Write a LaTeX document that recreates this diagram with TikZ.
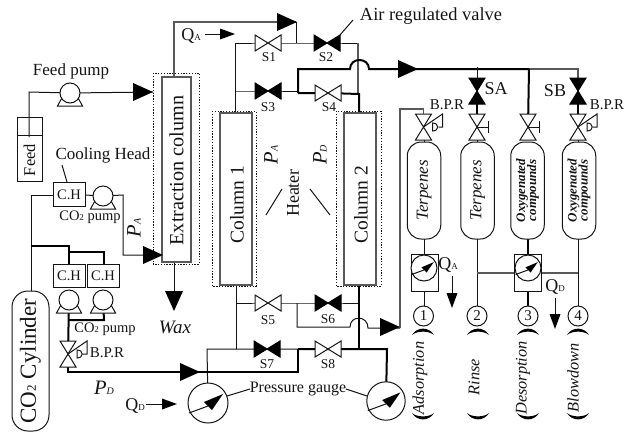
\documentclass[tikz,border=0pt]{standalone}
\usepackage{fontspec}
\setmainfont{Liberation Serif}
\newcommand{\fsz}[1]{\fontsize{#1}{#1}\selectfont}
\newcommand{\sm}[1]{{\fsz{9}#1}}
\newcommand{\smi}[1]{{\fsz{10}#1}}
\definecolor{ink}{gray}{0.08}
\definecolor{pipegray}{gray}{0.35}
\tikzset{
  x=1pt,y=-1pt,
  every node/.style={inner sep=0pt,outer sep=0pt,text=ink},
  thin pipe/.style={draw=ink,line width=1pt},
  gray pipe/.style={draw=pipegray,line width=1.1pt},
  heavy pipe/.style={draw=black,line width=2pt},
  label13/.style={font=\fsz{13.5}},
  colbox/.style={draw=pipegray,line width=1.3pt,fill=white,rotate=90,minimum height=32pt},
  coltext/.style={font=\fsz{19.5},rotate=90},
  dotbox/.style={draw=ink,line width=1pt,dash pattern=on 1.3pt off 1.5pt},
  chbox/.style={draw=ink,line width=1pt,fill=white,minimum width=32pt,minimum height=23.5pt,font=\fsz{14.5}},
  tank/.style={draw=ink,line width=1pt,fill=white,rounded corners=14pt,rotate=90,minimum width=97pt,minimum height=33.5pt},
  numc/.style={draw=ink,line width=1pt,fill=white,circle,minimum size=20pt,font=\fsz{15}},
  valvewhite/.pic={\draw[draw=ink,line width=1pt,fill=white,line join=miter] (-13,-8)--(13,8)--(13,-8)--(-13,8)--cycle;},
  valveblack/.pic={\draw[draw=black,line width=1pt,fill=black] (-13,-8)--(13,8)--(13,-8)--(-13,8)--cycle;},
  bigarrow/.pic={\fill[black] (0,0)--(-20,-9)--(-20,9)--cycle;},
  smallarrow/.pic={\fill[black] (0,0)--(-15,-5.5)--(-15,5.5)--cycle;},
  pump/.pic={\draw[draw=ink,line width=1pt,fill=white] (-12.5,13)--(12.5,13)--(7,3)--(-7,3)--cycle;
             \draw[draw=ink,line width=1pt,fill=white] (0,0) circle[radius=10pt];},
  gauge/.pic={\draw[draw=ink,line width=1pt,fill=white] (0,0) circle[radius=20pt];
              \draw[draw=ink,line width=1pt] (-19,10)--(0,3);
              \fill[black] (15,-9)--(-4,-1)--(4,7)--cycle;},
  regulator/.pic={\draw[draw=ink,line width=1pt,fill=white] (0,0)--(19,-13)--(19,0)--(15,0);
                  \draw[draw=ink,line width=1pt,fill=white] (9,-4)--(9,4) .. controls (16,4) and (16,-4) .. (9,-4)--cycle;},
  handle/.pic={\draw[draw=ink,line width=1pt] (0,0)--(11,0) (11,-6)--(11,6);},
  crestop/.pic={\fill[black] (-11,6) .. controls (-6,-2.5) and (6,-2.5) .. (11,6) .. controls (6,1.5) and (-6,1.5) .. (-11,6)--cycle;},
  cresbot/.pic={\fill[black] (-11,-4) .. controls (-6,4.5) and (6,4.5) .. (11,-4) .. controls (6,0.5) and (-6,0.5) .. (-11,-4)--cycle;},
}
\begin{document}
\begin{tikzpicture}
\useasboundingbox (0,0) rectangle (629,432);
% ---------- equipment nodes
\node[draw=ink,line width=1pt,minimum width=25pt,minimum height=64pt] (feedbox) at (29.5,149) {};
\node[font=\fsz{16.5},rotate=90] (feedtxt) at (29.5,160) {Feed};
\coordinate (feedlvl1) at (17,135); \coordinate (feedlvl2) at (42,135);
\coordinate (feedin) at (29,137);
\coordinate (feedc) at (29,92);
\coordinate (P1) at (70,93);
\coordinate (exin) at (153,92);

\draw[dotbox] (153,73) rectangle (199,264);
\draw[dotbox] (212,111) rectangle (256,286);
\draw[dotbox] (336,111) rectangle (381,286);

\coordinate (extop) at (174,77);
\coordinate (exbot) at (174,262);
\coordinate (topc) at (174,22);
\coordinate (toptip) at (296,22);
\coordinate (topj) at (296,43);

\coordinate (S1) at (268,43); \coordinate (S2) at (327,43);
\coordinate (S3) at (268,91); \coordinate (S4) at (328,93);
\coordinate (S5) at (268,303); \coordinate (S6) at (328,303);
\coordinate (S7) at (267,349); \coordinate (S8) at (328,349);
\coordinate (SA) at (477,91); \coordinate (SB) at (578,91);
\coordinate (V1) at (423.5,127); \coordinate (V2) at (477,127);
\coordinate (V3) at (528,127); \coordinate (V4) at (578,127);
\coordinate (BPRL) at (68,354);
\coordinate (G1) at (208,403); \coordinate (G2) at (386,401);
\coordinate (G3) at (424,268); \coordinate (G4) at (528,268);
\coordinate (PC) at (103,196);
\coordinate (PL) at (69,300); \coordinate (PR) at (103,300);

% ---------- pipes
\draw[thin pipe] (feedin)--(feedc)--(P1)--(exin);
\draw[thin pipe] (feedlvl1)--(feedlvl2);
\draw[gray pipe] (extop)--(topc)--(toptip);
\draw[thin pipe] (toptip)--(topj);
\draw[thin pipe] (235,43)--(S1)--(S2)--(358,43);
\draw[thin pipe] (235,43)--(235,113);
\draw[thin pipe] (235,91)--(S3)--(298,91);
\draw[gray pipe] (358,43)--(358,94);
\draw[heavy pipe] (298,93)--(S4)--(359,94)--(359,114);
\draw[heavy pipe] (298,93)--(298,69)--(350,69) .. controls (350,57) and (369,57) .. (369,69)--(529,69);
\draw[gray pipe] (529,69)--(578,69)--(SB);
\draw[thin pipe] (477,67)--(SA);
\draw[heavy pipe] (529,69)--(V3);
\draw[heavy pipe] (SA)--(V2);
\draw[heavy pipe] (SB)--(V4);
% lower column plumbing
\draw[thin pipe] (236,285)--(236,349);
\draw[thin pipe] (236,303)--(S5)--(S6)--(359,303);
\draw[thin pipe] (297,303)--(297,327)--(350,327) .. controls (350,315) and (368,315) .. (368,328)--(400,328);
\draw[gray pipe] (400,328)--(400,109)--(423.5,109)--(V1);
\draw[heavy pipe] (359,285)--(359,349);
\draw[thin pipe] (G1)--(207,349)--(S7)--(298,349);
\draw[heavy pipe] (298,349)--(S8)--(387,349)--(G2);
\draw[heavy pipe] (298,349)--(298,372)--(68,372)--(BPRL);
% CO2 feed
\draw[thin pipe] (31,291)--(31,195)--(53,195);
\draw[thin pipe] (85,195)--(PC)--(123,195)--(123,255)--(163,255);
\draw[heavy pipe] (31,246)--(69,246)--(69,264);
\draw[heavy pipe] (69,252)--(104,252)--(104,264);
\draw[heavy pipe] (PL)--(BPRL);
\draw[heavy pipe] (69,320)--(104,320)--(PR);
% outlet
\draw[thin pipe] (174,262)--(174,300);
\draw[thin pipe] (146,404)--(165,404);
\draw[thin pipe] (205,34)--(225,34);
\draw[thin pipe] (452,276)--(452,298);
\draw[thin pipe] (555,298)--(555,318);
% tank lines
\draw[thin pipe] (424,139)--(424,306);
\draw[thin pipe] (V2)--(477,306);
\draw[heavy pipe] (528,230)--(528,306);
\draw[thin pipe] (V4)--(578,306);
\draw[gray pipe] (477,273)--(578,273);
% leaders
\draw[thin pipe] (340,35)--(353,20);
\draw[thin pipe] (62,165)--(67,182);
\draw[thin pipe] (282,189)--(266,215);
\draw[thin pipe] (310,189)--(330,215);
\draw[thin pipe] (227,396)--(250,389);
\draw[thin pipe] (346,389)--(367,396);

% ---------- boxes over pipes
\node[colbox,minimum width=185pt,minimum height=29pt] (excol) at (176.5,169.5) {};
\node[coltext,font=\fsz{20.2}] (extxt) at (176.5,170.5) {Extraction column};
\node[colbox,minimum width=172pt] (col1) at (236,199) {};
\node[colbox,minimum width=172pt] (col2) at (360,199) {};
\node[coltext] (c1txt) at (237,204.5) {Column 1};
\node[coltext] (c2txt) at (361,204.5) {Column 2};
\node[chbox] (ch1) at (69,194.5) {C.H};
\node[chbox] (ch2) at (69,276) {C.H};
\node[chbox] (ch3) at (103,276) {C.H};
\node[draw=ink,line width=1pt,minimum width=140pt,minimum height=37pt,rounded corners=16pt,rotate=90,font=\fsz{23}] (cyl) at (30.5,361) {CO\sm{\fsz{13}2} Cylinder};
\node[tank] (t1) at (424,190.5) {\fsz{17}\itshape Terpenes};
\node[tank] (t2) at (477.5,190.5) {\fsz{17}\itshape Terpenes};
\node[tank,align=center,font=\fsz{13}\bfseries\itshape] (t3) at (527.5,190.5) {Oxygenated\\[-2pt]compounds};
\node[tank,align=center,font=\fsz{13}\bfseries\itshape] (t4) at (579,190.5) {Oxygenated\\[-2pt]compounds};
\draw[draw=ink,line width=1pt,fill=white] (411,254) rectangle (438,291);
\draw[draw=ink,line width=1pt,fill=white] (514,254) rectangle (541,291);
\node[numc] (n1) at (423.5,316) {1};
\node[numc] (n2) at (477,316) {2};
\node[numc] (n3) at (528,316) {3};
\node[numc] (n4) at (578,316) {4};

% ---------- symbols
\path (S1) pic {valvewhite}; \path (S2) pic {valveblack};
\path (S3) pic {valveblack}; \path (S4) pic {valvewhite};
\path (S5) pic {valvewhite}; \path (S6) pic {valveblack};
\path (S7) pic {valveblack}; \path (S8) pic {valvewhite};
\path (SA) pic[rotate=90] {valveblack}; \path (SB) pic[rotate=90] {valveblack};
\path (V1) pic[rotate=90] {valvewhite}; \path (V2) pic {handle}; \path (V2) pic[rotate=90] {valvewhite};
\path (V3) pic {handle}; \path (V3) pic[rotate=90] {valvewhite}; \path (V4) pic[rotate=90] {valvewhite};
\path (BPRL) pic[rotate=90] {valvewhite};
\path (V1) pic {regulator}; \path (V4) pic {regulator}; \path (BPRL) pic {regulator};
\path (P1) pic {pump}; \path (PC) pic {pump}; \path (PL) pic {pump}; \path (PR) pic {pump};
\path (G1) pic {gauge}; \path (G2) pic[scale=.96] {gauge};
\path (G3) pic[scale=.65] {gauge}; \path (G4) pic[scale=.65] {gauge};
\coordinate (A1) at (153,92); \coordinate (A2) at (297,22); \coordinate (A3) at (418,69);
\coordinate (A4) at (400,327); \coordinate (A5) at (200,372); \coordinate (A6) at (163,255);
\path (A1) pic {bigarrow}; \path (A2) pic {bigarrow}; \path (A3) pic {bigarrow};
\path (A4) pic {bigarrow}; \path (A5) pic {bigarrow}; \path (A6) pic {bigarrow};
\coordinate (A7) at (174,311); \path (A7) pic[rotate=-90] {bigarrow};
\coordinate (A8) at (235,34); \path (A8) pic {smallarrow};
\coordinate (A9) at (177,404); \path (A9) pic {smallarrow};
\coordinate (A10) at (452,308); \path (A10) pic[rotate=-90] {smallarrow};
\coordinate (A11) at (555,329); \path (A11) pic[rotate=-90] {smallarrow};
\foreach \cx in {423,478,528,578}{
  \path (\cx,329) pic {crestop};
  \path (\cx,417) pic {cresbot};
}

% ---------- labels
\node[font=\fsz{17}] (lfeed) at (71,71) {Feed pump};
\node[font=\fsz{17}] (lcool) at (103,155) {Cooling Head};
\node[font=\fsz{14.5}] (lco1) at (90,217) {CO\sm{2} pump};
\node[font=\fsz{14.5}] (lco2) at (105,329) {CO\sm{2} pump};
\node[font=\fsz{15}] (lbpr1) at (107,353) {B.P.R};
\node[font=\fsz{15}] (lbpr2) at (447,105) {B.P.R};
\node[font=\fsz{15}] (lbpr3) at (607,105) {B.P.R};
\node[font=\fsz{18.4}] (lair) at (431,16) {Air regulated valve};
\node[font=\fsz{18}] (lqa1) at (191,36) {Q\sm{A}};
\node[font=\fsz{18}] (lqd1) at (135,406) {Q\sm{D}};
\node[font=\fsz{18}] (lqa2) at (448,265) {Q\sm{A}};
\node[font=\fsz{18}] (lqd2) at (555,287) {Q\sm{D}};
\node[font=\fsz{18}] (lsa) at (496,89) {SA};
\node[font=\fsz{18}] (lsb) at (555,91) {SB};
\node[label13] (ls1) at (269,57) {S1};
\node[label13] (ls2) at (326,57) {S2};
\node[label13] (ls3) at (268,107) {S3};
\node[label13] (ls4) at (329,107) {S4};
\node[label13] (ls5) at (268,320) {S5};
\node[label13] (ls6) at (328,319) {S6};
\node[label13] (ls7) at (267,364) {S7};
\node[label13] (ls8) at (328,364) {S8};
\node[font=\fsz{16}] (lpg) at (298,389) {Pressure gauge};
\node[font=\fsz{19}\itshape] (lwax) at (175,327) {Wax};
\node[font=\fsz{18},rotate=90] (lheat) at (293,193) {Heater};
\node[font=\fsz{20.5}\itshape,rotate=90] (lpa1) at (271,155) {P\smi{A}};
\node[font=\fsz{20.5}\itshape,rotate=90] (lpd1) at (320,155) {P\smi{D}};
\node[font=\fsz{20.5}\itshape,rotate=90] (lpa2) at (134,228) {P\smi{A}};
\node[font=\fsz{20.5}\itshape] (lpd2) at (104,388) {P\smi{D}};
\node[font=\fsz{16.3}\itshape,rotate=90] (lads) at (420,378) {Adsorption};
\node[font=\fsz{16.3}\itshape,rotate=90] (lrin) at (474,377) {Rinse};
\node[font=\fsz{16.3}\itshape,rotate=90] (ldes) at (523,378) {Desorption};
\node[font=\fsz{16.3}\itshape,rotate=90] (lblo) at (573,378) {Blowdown};
\end{tikzpicture}
\end{document}
